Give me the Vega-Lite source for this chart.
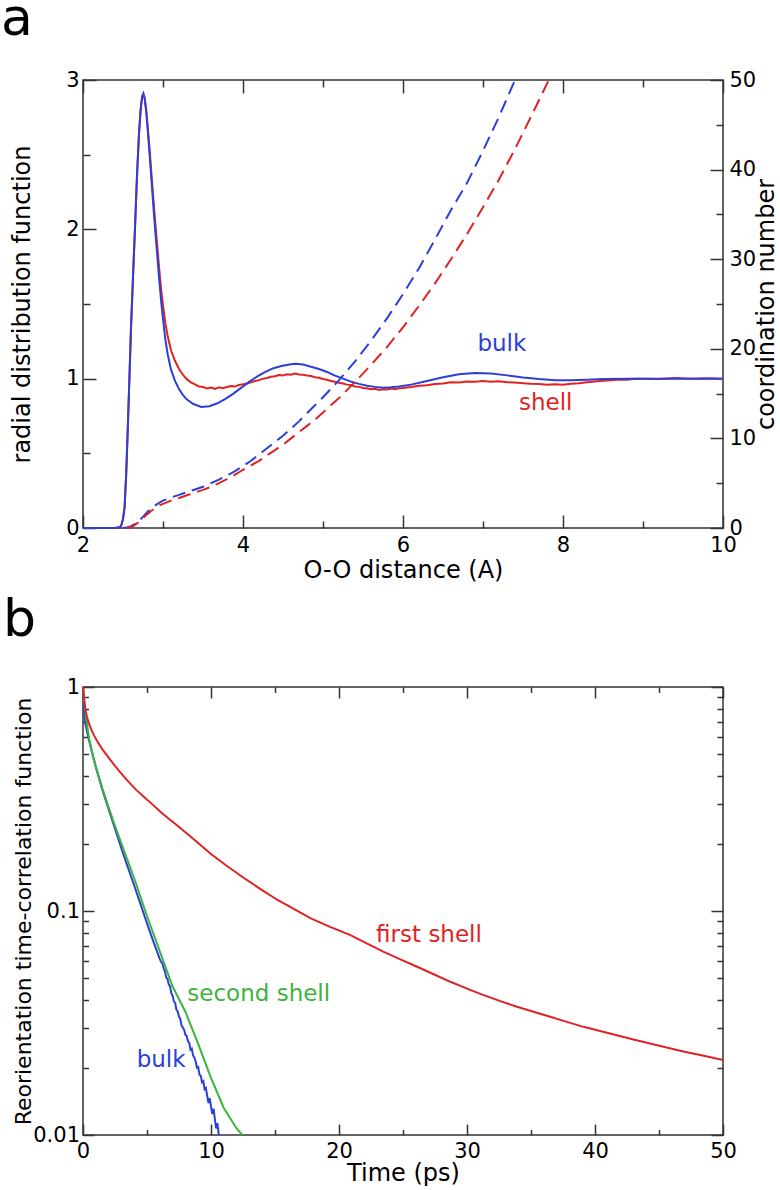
{
  "$schema": "https://vega.github.io/schema/vega-lite/v6.json",
  "background": "white",
  "padding": {"left": 0, "top": -8, "right": 0, "bottom": 0},
  "spacing": 9,
  "config": {
    "view": {"stroke": "#333", "strokeWidth": 1.5},
    "axis": {
      "grid": false, "domain": false,
      "labelFont": "DejaVu Sans", "labelFontSize": 21, "labelColor": "#000",
      "titleFont": "DejaVu Sans", "titleFontSize": 24, "titleFontWeight": "normal", "titleColor": "#000",
      "tickColor": "#333", "tickWidth": 1.5, "labelFlush": false, "labelOverlap": false
    },
    "title": {"font": "DejaVu Sans", "fontWeight": "normal", "fontSize": 52, "color": "#000", "anchor": "start", "frame": "group", "baseline": "alphabetic"},
    "text": {"font": "DejaVu Sans"}
  },
  "datasets": {
    "gBulk": [
      {"r":2.0,"g":0},{"r":2.4,"g":0},{"r":2.46,"g":0.005},{"r":2.48,"g":0.02},{"r":2.5,"g":0.06},{"r":2.52,"g":0.14},{"r":2.54,"g":0.36},{"r":2.56,"g":0.67},{"r":2.58,"g":1.0},{"r":2.6,"g":1.34},{"r":2.625,"g":1.68},{"r":2.65,"g":2.01},{"r":2.675,"g":2.36},{"r":2.7,"g":2.64},{"r":2.72,"g":2.8},{"r":2.74,"g":2.89},{"r":2.755,"g":2.91},{"r":2.77,"g":2.88},{"r":2.79,"g":2.79},{"r":2.81,"g":2.66},{"r":2.83,"g":2.52},{"r":2.86,"g":2.3},{"r":2.89,"g":2.08},{"r":2.92,"g":1.88},{"r":2.95,"g":1.68},{"r":2.98,"g":1.5},{"r":3.0,"g":1.4},{"r":3.03,"g":1.26},{"r":3.06,"g":1.16},{"r":3.1,"g":1.06},{"r":3.15,"g":0.985},{"r":3.2,"g":0.93},{"r":3.25,"g":0.89},{"r":3.3,"g":0.86},{"r":3.38,"g":0.83},{"r":3.48,"g":0.81},{"r":3.58,"g":0.815},{"r":3.68,"g":0.835},{"r":3.78,"g":0.865},{"r":3.88,"g":0.9},{"r":3.98,"g":0.94},{"r":4.08,"g":0.98},{"r":4.18,"g":1.015},{"r":4.28,"g":1.045},{"r":4.38,"g":1.07},{"r":4.48,"g":1.085},{"r":4.58,"g":1.095},{"r":4.66,"g":1.1},{"r":4.75,"g":1.095},{"r":4.85,"g":1.08},{"r":4.95,"g":1.065},{"r":5.05,"g":1.045},{"r":5.15,"g":1.02},{"r":5.25,"g":1.0},{"r":5.35,"g":0.98},{"r":5.45,"g":0.965},{"r":5.55,"g":0.952},{"r":5.65,"g":0.945},{"r":5.75,"g":0.94},{"r":5.85,"g":0.942},{"r":5.95,"g":0.948},{"r":6.1,"g":0.96},{"r":6.3,"g":0.985},{"r":6.5,"g":1.01},{"r":6.7,"g":1.03},{"r":6.9,"g":1.038},{"r":7.1,"g":1.035},{"r":7.3,"g":1.022},{"r":7.5,"g":1.008},{"r":7.7,"g":0.997},{"r":7.9,"g":0.99},{"r":8.1,"g":0.99},{"r":8.3,"g":0.993},{"r":8.5,"g":0.998},{"r":8.8,"g":1.0},{"r":9.2,"g":1.0},{"r":9.6,"g":1.0},{"r":10.0,"g":1.0}
    ],
    "gShell": [
      {"r":2.0,"g":0},{"r":2.4,"g":0},{"r":2.46,"g":0.005},{"r":2.48,"g":0.02},{"r":2.5,"g":0.06},{"r":2.52,"g":0.14},{"r":2.54,"g":0.36},{"r":2.56,"g":0.67},{"r":2.58,"g":1.0},{"r":2.6,"g":1.34},{"r":2.625,"g":1.68},{"r":2.65,"g":2.01},{"r":2.675,"g":2.36},{"r":2.7,"g":2.64},{"r":2.72,"g":2.8},{"r":2.74,"g":2.89},{"r":2.755,"g":2.9},{"r":2.77,"g":2.88},{"r":2.79,"g":2.8},{"r":2.81,"g":2.68},{"r":2.83,"g":2.55},{"r":2.86,"g":2.34},{"r":2.89,"g":2.13},{"r":2.92,"g":1.94},{"r":2.95,"g":1.75},{"r":2.98,"g":1.58},{"r":3.0,"g":1.49},{"r":3.03,"g":1.37},{"r":3.06,"g":1.28},{"r":3.1,"g":1.19},{"r":3.15,"g":1.12},{"r":3.2,"g":1.065},{"r":3.25,"g":1.025},{"r":3.3,"g":0.995},{"r":3.35,"g":0.975},{"r":3.4,"g":0.962},{"r":3.45,"g":0.948},{"r":3.5,"g":0.944},{"r":3.55,"g":0.935},{"r":3.6,"g":0.94},{"r":3.65,"g":0.932},{"r":3.7,"g":0.942},{"r":3.75,"g":0.936},{"r":3.8,"g":0.944},{"r":3.85,"g":0.95},{"r":3.9,"g":0.947},{"r":3.95,"g":0.958},{"r":4.0,"g":0.962},{"r":4.05,"g":0.968},{"r":4.1,"g":0.975},{"r":4.15,"g":0.984},{"r":4.2,"g":0.99},{"r":4.25,"g":1.0},{"r":4.3,"g":1.004},{"r":4.35,"g":1.013},{"r":4.4,"g":1.016},{"r":4.45,"g":1.024},{"r":4.5,"g":1.022},{"r":4.55,"g":1.03},{"r":4.6,"g":1.027},{"r":4.65,"g":1.034},{"r":4.7,"g":1.028},{"r":4.75,"g":1.026},{"r":4.8,"g":1.021},{"r":4.85,"g":1.018},{"r":4.9,"g":1.01},{"r":4.95,"g":1.006},{"r":5.0,"g":0.998},{"r":5.05,"g":0.993},{"r":5.1,"g":0.985},{"r":5.15,"g":0.98},{"r":5.2,"g":0.972},{"r":5.25,"g":0.968},{"r":5.3,"g":0.96},{"r":5.35,"g":0.957},{"r":5.4,"g":0.948},{"r":5.45,"g":0.945},{"r":5.5,"g":0.938},{"r":5.55,"g":0.936},{"r":5.6,"g":0.93},{"r":5.65,"g":0.932},{"r":5.7,"g":0.925},{"r":5.75,"g":0.929},{"r":5.8,"g":0.927},{"r":5.85,"g":0.934},{"r":5.9,"g":0.93},{"r":5.95,"g":0.936},{"r":6.0,"g":0.938},{"r":6.1,"g":0.944},{"r":6.2,"g":0.952},{"r":6.3,"g":0.956},{"r":6.4,"g":0.965},{"r":6.5,"g":0.968},{"r":6.6,"g":0.976},{"r":6.7,"g":0.974},{"r":6.8,"g":0.981},{"r":6.9,"g":0.979},{"r":7.0,"g":0.985},{"r":7.1,"g":0.98},{"r":7.2,"g":0.983},{"r":7.3,"g":0.976},{"r":7.4,"g":0.975},{"r":7.5,"g":0.97},{"r":7.6,"g":0.966},{"r":7.7,"g":0.964},{"r":7.8,"g":0.96},{"r":7.9,"g":0.963},{"r":8.0,"g":0.96},{"r":8.1,"g":0.966},{"r":8.2,"g":0.97},{"r":8.3,"g":0.976},{"r":8.4,"g":0.981},{"r":8.5,"g":0.986},{"r":8.6,"g":0.99},{"r":8.7,"g":0.995},{"r":8.8,"g":0.993},{"r":8.9,"g":0.999},{"r":9.0,"g":1.0},{"r":9.2,"g":0.998},{"r":9.4,"g":1.004},{"r":9.6,"g":1.0},{"r":9.8,"g":1.003},{"r":10.0,"g":1.0}
    ],
    "nBulk": [
      {"r":2.5,"n":0},{"r":2.55,"n":0.05},{"r":2.6,"n":0.2},{"r":2.65,"n":0.45},{"r":2.7,"n":0.8},{"r":2.75,"n":1.25},{"r":2.8,"n":1.75},{"r":2.85,"n":2.15},{"r":2.9,"n":2.5},{"r":2.95,"n":2.8},{"r":3.0,"n":3.05},{"r":3.1,"n":3.4},{"r":3.2,"n":3.7},{"r":3.3,"n":4.0},{"r":3.4,"n":4.3},{"r":3.5,"n":4.6},{"r":3.6,"n":5.0},{"r":3.7,"n":5.4},{"r":3.8,"n":5.85},{"r":3.9,"n":6.35},{"r":4.0,"n":6.9},{"r":4.1,"n":7.5},{"r":4.2,"n":8.2},{"r":4.3,"n":8.9},{"r":4.4,"n":9.6},{"r":4.5,"n":10.3},{"r":4.6,"n":11.1},{"r":4.7,"n":11.9},{"r":4.8,"n":12.8},{"r":4.9,"n":13.7},{"r":5.0,"n":14.6},{"r":5.2,"n":16.5},{"r":5.4,"n":18.6},{"r":5.6,"n":20.9},{"r":5.8,"n":23.4},{"r":6.0,"n":26.1},{"r":6.2,"n":29.0},{"r":6.4,"n":32.2},{"r":6.6,"n":35.5},{"r":6.8,"n":38.5},{"r":7.0,"n":42.1},{"r":7.2,"n":45.9},{"r":7.4,"n":50.0}
    ],
    "nShell": [
      {"r":2.55,"n":0},{"r":2.6,"n":0.1},{"r":2.65,"n":0.35},{"r":2.7,"n":0.7},{"r":2.75,"n":1.1},{"r":2.8,"n":1.5},{"r":2.85,"n":1.9},{"r":2.9,"n":2.2},{"r":2.95,"n":2.5},{"r":3.0,"n":2.7},{"r":3.1,"n":3.05},{"r":3.2,"n":3.35},{"r":3.3,"n":3.65},{"r":3.4,"n":3.95},{"r":3.5,"n":4.25},{"r":3.6,"n":4.6},{"r":3.7,"n":5.0},{"r":3.8,"n":5.45},{"r":3.9,"n":5.95},{"r":4.0,"n":6.5},{"r":4.1,"n":7.0},{"r":4.2,"n":7.5},{"r":4.3,"n":8.1},{"r":4.4,"n":8.7},{"r":4.5,"n":9.3},{"r":4.6,"n":10.0},{"r":4.7,"n":10.7},{"r":4.8,"n":11.4},{"r":4.9,"n":12.1},{"r":5.0,"n":12.9},{"r":5.2,"n":14.5},{"r":5.4,"n":16.3},{"r":5.6,"n":18.2},{"r":5.8,"n":20.2},{"r":6.0,"n":22.4},{"r":6.2,"n":24.8},{"r":6.4,"n":27.3},{"r":6.6,"n":30.0},{"r":6.8,"n":32.8},{"r":7.0,"n":35.8},{"r":7.2,"n":38.9},{"r":7.4,"n":42.3},{"r":7.6,"n":45.9},{"r":7.8,"n":49.6},{"r":7.82,"n":50.0}
    ],
    "labelsTop": [
      {"r":6.93,"g":1.187,"n":19.78,"label":"bulk","s":"bulk"},
      {"r":7.45,"g":0.79,"n":13.17,"label":"shell","s":"shell"}
    ],
    "cBulk": [
      {"t":0,"v":1.0},{"t":0.05,"v":0.85},{"t":0.1,"v":0.76},{"t":0.2,"v":0.68},{"t":0.35,"v":0.62},{"t":0.5,"v":0.57},{"t":0.75,"v":0.5},{"t":1.0,"v":0.44},{"t":1.5,"v":0.35},{"t":2.0,"v":0.285},{"t":2.5,"v":0.233},{"t":3.0,"v":0.19},{"t":3.5,"v":0.157},{"t":4.0,"v":0.13},{"t":4.5,"v":0.107},{"t":5.0,"v":0.088},{"t":5.5,"v":0.073},{"t":6.0,"v":0.061},{"t":6.1,"v":0.0592},{"t":6.2,"v":0.0585},{"t":6.3,"v":0.0555},{"t":6.4,"v":0.0538},{"t":6.5,"v":0.0505},{"t":6.6,"v":0.0498},{"t":6.7,"v":0.047},{"t":6.8,"v":0.0462},{"t":6.9,"v":0.043},{"t":7.0,"v":0.0418},{"t":7.1,"v":0.0395},{"t":7.2,"v":0.0389},{"t":7.3,"v":0.0362},{"t":7.4,"v":0.0356},{"t":7.5,"v":0.0338},{"t":7.6,"v":0.033},{"t":7.7,"v":0.0308},{"t":7.8,"v":0.0302},{"t":7.9,"v":0.0295},{"t":8.0,"v":0.028},{"t":8.1,"v":0.0277},{"t":8.2,"v":0.0262},{"t":8.3,"v":0.0258},{"t":8.4,"v":0.024},{"t":8.5,"v":0.0243},{"t":8.6,"v":0.0226},{"t":8.7,"v":0.0222},{"t":8.8,"v":0.0213},{"t":8.9,"v":0.02},{"t":9.0,"v":0.0201},{"t":9.1,"v":0.0186},{"t":9.2,"v":0.0184},{"t":9.3,"v":0.0172},{"t":9.4,"v":0.0174},{"t":9.5,"v":0.016},{"t":9.6,"v":0.0162},{"t":9.7,"v":0.015},{"t":9.8,"v":0.0139},{"t":9.9,"v":0.0146},{"t":10.0,"v":0.0134},{"t":10.1,"v":0.0124},{"t":10.2,"v":0.0131},{"t":10.3,"v":0.0118},{"t":10.4,"v":0.0107},{"t":10.5,"v":0.0113},{"t":10.6,"v":0.0101},{"t":10.63,"v":0.01}
    ],
    "cSecond": [
      {"t":0,"v":1.0},{"t":0.1,"v":0.86},{"t":0.2,"v":0.76},{"t":0.35,"v":0.66},{"t":0.5,"v":0.58},{"t":0.75,"v":0.5},{"t":1.0,"v":0.44},{"t":1.5,"v":0.355},{"t":2.0,"v":0.29},{"t":2.5,"v":0.24},{"t":3.0,"v":0.2},{"t":4.0,"v":0.14},{"t":5.0,"v":0.095},{"t":6.0,"v":0.066},{"t":7.0,"v":0.046},{"t":8.0,"v":0.0355},{"t":9.0,"v":0.0255},{"t":10.0,"v":0.018},{"t":11.0,"v":0.0132},{"t":12.0,"v":0.0107},{"t":12.45,"v":0.01}
    ],
    "cFirst": [
      {"t":0,"v":1.0},{"t":0.05,"v":0.93},{"t":0.1,"v":0.87},{"t":0.2,"v":0.79},{"t":0.3,"v":0.74},{"t":0.47,"v":0.686},{"t":0.65,"v":0.645},{"t":0.86,"v":0.608},{"t":1.09,"v":0.575},{"t":1.5,"v":0.528},{"t":2.16,"v":0.47},{"t":2.8,"v":0.423},{"t":3.46,"v":0.383},{"t":4.1,"v":0.35},{"t":4.77,"v":0.323},{"t":5.4,"v":0.3},{"t":6.07,"v":0.277},{"t":6.7,"v":0.258},{"t":7.37,"v":0.241},{"t":8.7,"v":0.208},{"t":9.97,"v":0.18},{"t":11.3,"v":0.158},{"t":12.6,"v":0.14},{"t":13.9,"v":0.125},{"t":15.2,"v":0.112},{"t":16.5,"v":0.102},{"t":17.8,"v":0.0927},{"t":19.3,"v":0.085},{"t":20.9,"v":0.078},{"t":22.2,"v":0.0715},{"t":23.5,"v":0.0657},{"t":24.8,"v":0.0608},{"t":26.1,"v":0.0564},{"t":27.4,"v":0.0522},{"t":28.7,"v":0.0483},{"t":30.0,"v":0.045},{"t":31.3,"v":0.0421},{"t":32.6,"v":0.0396},{"t":33.9,"v":0.0374},{"t":35.2,"v":0.0355},{"t":36.5,"v":0.0337},{"t":37.8,"v":0.032},{"t":39.1,"v":0.0304},{"t":40.4,"v":0.0291},{"t":41.7,"v":0.0279},{"t":43.0,"v":0.0267},{"t":44.3,"v":0.0256},{"t":45.6,"v":0.0246},{"t":46.9,"v":0.0236},{"t":48.5,"v":0.0226},{"t":50.0,"v":0.0216}
    ],
    "labelsBottom": [
      {"t":4.19,"v":0.0202,"label":"bulk","s":"bulk"},
      {"t":8.15,"v":0.0397,"label":"second shell","s":"second"},
      {"t":22.9,"v":0.073,"label":"first shell","s":"first"}
    ]
  },
  "vconcat": [
    {
      "width": 640,
      "height": 448,
      "title": {"text": "a", "dx": -82, "offset": 23},
      "resolve": {"scale": {"y": "independent"}, "axis": {"x": "independent", "y": "independent"}},
      "layer": [
        {
          "data": {"name": "gShell"},
          "mark": {"type": "line", "color": "#e02222", "strokeWidth": 2},
          "encoding": {
            "x": {"field": "r", "type": "quantitative", "scale": {"domain": [2, 10], "nice": false, "zero": false},
                  "axis": {"orient": "bottom", "values": [2, 4, 6, 8, 10], "tickSize": -13, "labels": false, "title": null}},
            "y": {"field": "g", "type": "quantitative", "scale": {"domain": [0, 3], "nice": false, "zero": false},
                  "axis": {"orient": "left", "values": [0, 1, 2, 3], "tickSize": -13, "labels": false, "title": null}}
          }
        },
        {
          "data": {"name": "gBulk"},
          "mark": {"type": "line", "color": "#2c3fd8", "strokeWidth": 2},
          "encoding": {
            "x": {"field": "r", "type": "quantitative", "scale": {"domain": [2, 10], "nice": false, "zero": false},
                  "axis": {"orient": "bottom", "values": [2, 4, 6, 8, 10], "ticks": false, "format": "d", "labelPadding": 6, "title": "O-O distance (A)", "titlePadding": 3}},
            "y": {"field": "g", "type": "quantitative", "scale": {"domain": [0, 3], "nice": false, "zero": false},
                  "axis": {"orient": "left", "values": [0, 1, 2, 3], "ticks": false, "format": "d", "labelPadding": 4, "title": "radial distribution function", "titlePadding": 36, "titleBaseline": "alphabetic"}}
          }
        },
        {
          "data": {"name": "nBulk"},
          "mark": {"type": "line", "color": "#2c3fd8", "strokeWidth": 2, "strokeDash": [13, 7]},
          "encoding": {
            "x": {"field": "r", "type": "quantitative", "scale": {"domain": [2, 10], "nice": false, "zero": false},
                  "axis": {"orient": "bottom", "values": [3, 5, 7, 9], "tickSize": -7, "labels": false, "title": null}},
            "y": {"field": "n", "type": "quantitative", "scale": {"domain": [0, 50], "nice": false, "zero": false},
                  "axis": {"orient": "right", "values": [0, 10, 20, 30, 40, 50], "ticks": false, "format": "d", "labelPadding": 6, "title": "coordination number", "titleAngle": 270, "titleBaseline": "top", "titlePadding": -1}}
          }
        },
        {
          "data": {"name": "nShell"},
          "mark": {"type": "line", "color": "#e02222", "strokeWidth": 2, "strokeDash": [13, 7]},
          "encoding": {
            "x": {"field": "r", "type": "quantitative", "scale": {"domain": [2, 10], "nice": false, "zero": false},
                  "axis": {"orient": "top", "values": [2, 4, 6, 8, 10], "tickSize": -13, "labels": false, "title": null}},
            "y": {"field": "n", "type": "quantitative", "scale": {"domain": [0, 50], "nice": false, "zero": false},
                  "axis": {"orient": "right", "values": [0, 10, 20, 30, 40, 50], "tickSize": -13, "labels": false, "title": null}}
          }
        },
        {
          "data": {"name": "labelsTop"},
          "transform": [{"filter": "datum.s === 'bulk'"}],
          "mark": {"type": "text", "color": "#2c3fd8", "fontSize": 23, "align": "left", "baseline": "alphabetic"},
          "encoding": {
            "x": {"field": "r", "type": "quantitative", "scale": {"domain": [2, 10], "nice": false, "zero": false},
                  "axis": {"orient": "top", "values": [3, 5, 7, 9], "tickSize": -7, "labels": false, "title": null}},
            "y": {"field": "g", "type": "quantitative", "scale": {"domain": [0, 3], "nice": false, "zero": false},
                  "axis": {"orient": "left", "values": [0.5, 1.5, 2.5], "tickSize": -7, "labels": false, "title": null}},
            "text": {"field": "label"}
          }
        },
        {
          "data": {"name": "labelsTop"},
          "transform": [{"filter": "datum.s === 'shell'"}],
          "mark": {"type": "text", "color": "#e02222", "fontSize": 23, "align": "left", "baseline": "alphabetic"},
          "encoding": {
            "x": {"field": "r", "type": "quantitative", "scale": {"domain": [2, 10], "nice": false, "zero": false}, "axis": null},
            "y": {"field": "n", "type": "quantitative", "scale": {"domain": [0, 50], "nice": false, "zero": false},
                  "axis": {"orient": "right", "values": [5, 15, 25, 35, 45], "tickSize": -7, "labels": false, "title": null}},
            "text": {"field": "label"}
          }
        }
      ]
    },
    {
      "width": 640,
      "height": 448,
      "title": {"text": "b", "dx": -80, "offset": 29.5},
      "resolve": {"axis": {"x": "independent", "y": "independent"}},
      "layer": [
        {
          "data": {"name": "cBulk"},
          "mark": {"type": "line", "color": "#2c3fd8", "strokeWidth": 2},
          "encoding": {
            "x": {"field": "t", "type": "quantitative", "scale": {"domain": [0, 50], "nice": false, "zero": false},
                  "axis": {"orient": "bottom", "values": [0, 10, 20, 30, 40, 50], "ticks": false, "format": "d", "labelPadding": 5, "title": "Time (ps)", "titlePadding": 0}},
            "y": {"field": "v", "type": "quantitative", "scale": {"type": "log", "domain": [0.01, 1], "nice": false},
                  "axis": {"orient": "left", "values": [0.01, 0.1, 1], "ticks": false, "format": "~g", "labelPadding": 3.5, "title": "Reorientation time-correlation function", "titleFontSize": 22, "titlePadding": 2, "titleBaseline": "alphabetic"}}
          }
        },
        {
          "data": {"name": "cSecond"},
          "mark": {"type": "line", "color": "#3cb43c", "strokeWidth": 2},
          "encoding": {
            "x": {"field": "t", "type": "quantitative", "scale": {"domain": [0, 50], "nice": false, "zero": false},
                  "axis": {"orient": "bottom", "values": [0, 10, 20, 30, 40, 50], "tickSize": -11, "labels": false, "title": null}},
            "y": {"field": "v", "type": "quantitative", "scale": {"type": "log", "domain": [0.01, 1], "nice": false},
                  "axis": {"orient": "left", "values": [0.01, 0.1, 1], "tickSize": -11, "labels": false, "title": null}}
          }
        },
        {
          "data": {"name": "cFirst"},
          "mark": {"type": "line", "color": "#e02222", "strokeWidth": 2},
          "encoding": {
            "x": {"field": "t", "type": "quantitative", "scale": {"domain": [0, 50], "nice": false, "zero": false},
                  "axis": {"orient": "bottom", "values": [5, 15, 25, 35, 45], "tickSize": -5.5, "labels": false, "title": null}},
            "y": {"field": "v", "type": "quantitative", "scale": {"type": "log", "domain": [0.01, 1], "nice": false},
                  "axis": {"orient": "left", "values": [0.02, 0.03, 0.04, 0.05, 0.06, 0.07, 0.08, 0.09, 0.2, 0.3, 0.4, 0.5, 0.6, 0.7, 0.8, 0.9], "tickSize": -5.5, "labels": false, "title": null}}
          }
        },
        {
          "data": {"name": "labelsBottom"},
          "transform": [{"filter": "datum.s === 'bulk'"}],
          "mark": {"type": "text", "color": "#2c3fd8", "fontSize": 23, "align": "left", "baseline": "alphabetic"},
          "encoding": {
            "x": {"field": "t", "type": "quantitative", "scale": {"domain": [0, 50], "nice": false, "zero": false},
                  "axis": {"orient": "top", "values": [0, 10, 20, 30, 40, 50], "tickSize": -11, "labels": false, "title": null}},
            "y": {"field": "v", "type": "quantitative", "scale": {"type": "log", "domain": [0.01, 1], "nice": false},
                  "axis": {"orient": "right", "values": [0.01, 0.1, 1], "tickSize": -12, "labels": false, "title": null}},
            "text": {"field": "label"}
          }
        },
        {
          "data": {"name": "labelsBottom"},
          "transform": [{"filter": "datum.s === 'second'"}],
          "mark": {"type": "text", "color": "#3cb43c", "fontSize": 23, "align": "left", "baseline": "alphabetic"},
          "encoding": {
            "x": {"field": "t", "type": "quantitative", "scale": {"domain": [0, 50], "nice": false, "zero": false},
                  "axis": {"orient": "top", "values": [5, 15, 25, 35, 45], "tickSize": -5.5, "labels": false, "title": null}},
            "y": {"field": "v", "type": "quantitative", "scale": {"type": "log", "domain": [0.01, 1], "nice": false},
                  "axis": {"orient": "right", "values": [0.02, 0.03, 0.04, 0.05, 0.06, 0.07, 0.08, 0.09, 0.2, 0.3, 0.4, 0.5, 0.6, 0.7, 0.8, 0.9], "tickSize": -6, "labels": false, "title": null}},
            "text": {"field": "label"}
          }
        },
        {
          "data": {"name": "labelsBottom"},
          "transform": [{"filter": "datum.s === 'first'"}],
          "mark": {"type": "text", "color": "#e02222", "fontSize": 23, "align": "left", "baseline": "alphabetic"},
          "encoding": {
            "x": {"field": "t", "type": "quantitative", "scale": {"domain": [0, 50], "nice": false, "zero": false}, "axis": null},
            "y": {"field": "v", "type": "quantitative", "scale": {"type": "log", "domain": [0.01, 1], "nice": false}, "axis": null},
            "text": {"field": "label"}
          }
        }
      ]
    }
  ]
}
